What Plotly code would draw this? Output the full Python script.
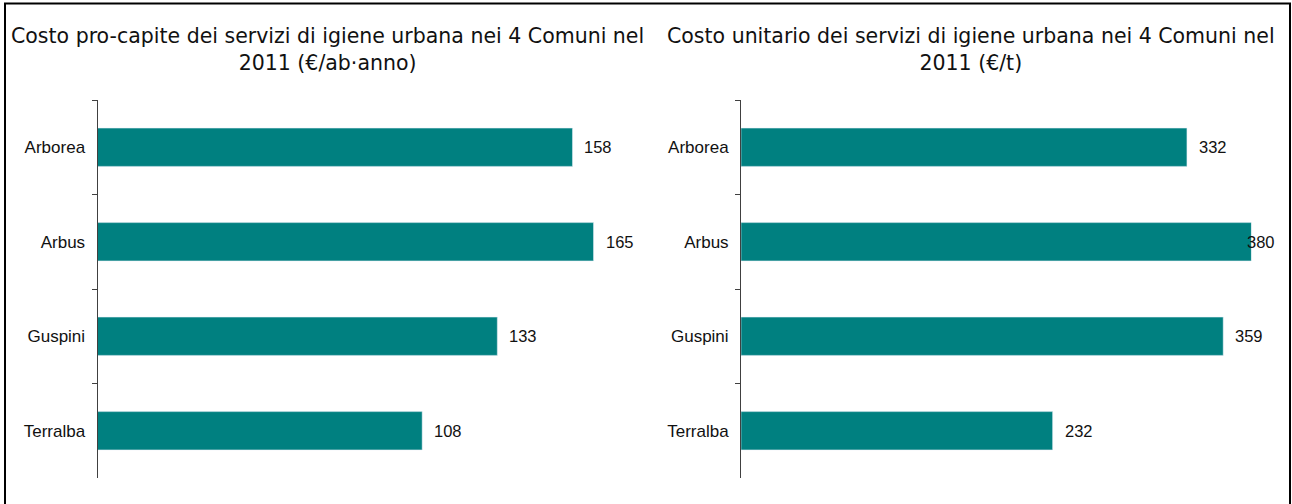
import plotly.graph_objects as go

comuni = ["Arborea", "Arbus", "Guspini", "Terralba"]
costo_pro_capite = [158, 165, 133, 108]
costo_unitario = [332, 380, 359, 232]
titolo_sx = "Costo pro-capite dei servizi di igiene urbana nei 4 Comuni nel<br>2011 (€/ab·anno)"
titolo_dx = "Costo unitario dei servizi di igiene urbana nei 4 Comuni nel<br>2011 (€/t)"

W, H = 1292, 504
BAR = "#008080"
AX = "#404040"
LBL = dict(family="Liberation Sans, Arial", size=16.5, color="#111")

fig = go.Figure()
fig.add_trace(go.Bar(x=costo_pro_capite, y=comuni, orientation="h", marker_color=BAR,
                     xaxis="x", yaxis="y", showlegend=False, hoverinfo="skip"))
fig.add_trace(go.Bar(x=costo_unitario, y=comuni, orientation="h", marker_color=BAR,
                     xaxis="x2", yaxis="y2", showlegend=False, hoverinfo="skip"))

ydom = [1 - 478 / H, 1 - 100 / H]
yax = dict(domain=ydom, type="category", categoryorder="array", categoryarray=comuni,
           autorange="reversed", showline=True, linecolor=AX, linewidth=1,
           ticks="outside", tickson="boundaries", ticklen=5, tickcolor=AX,
           showgrid=False, zeroline=False, ticklabelstandoff=8,
           tickfont=dict(family="Liberation Sans, Arial", size=17, color="#111"))
xax = dict(showline=False, showgrid=False, zeroline=False, showticklabels=False, ticks="")

fig.update_layout(
    width=W, height=H, margin=dict(l=0, r=0, t=0, b=0),
    paper_bgcolor="white", plot_bgcolor="white", bargap=0.595,
    xaxis=dict(domain=[97.5 / W, 638.6 / W], range=[0, 180], **xax),
    xaxis2=dict(domain=[741 / W, 1251.4 / W], range=[0, 380], anchor="y2", **xax),
    yaxis=dict(anchor="x", **yax),
    yaxis2=dict(anchor="x2", **yax),
)

ann = []
for c, v in zip(comuni, costo_pro_capite):
    ann.append(dict(x=v, y=c, xref="x", yref="y", text=str(v), showarrow=False,
                    xanchor="left", xshift=10, font=LBL))
for c, v in zip(comuni, costo_unitario):
    shift = -6 if v == max(costo_unitario) else 10
    ann.append(dict(x=v, y=c, xref="x2", yref="y2", text=str(v), showarrow=False,
                    xanchor="left", xshift=shift, font=LBL))

tfont = dict(family="DejaVu Sans", size=20.5, color="#111")
ann.append(dict(x=327 / W, y=1 - 50 / H, xref="paper", yref="paper", text=titolo_sx,
                showarrow=False, xanchor="center", yanchor="middle", font=tfont))
ann.append(dict(x=971 / W, y=1 - 50 / H, xref="paper", yref="paper", text=titolo_dx,
                showarrow=False, xanchor="center", yanchor="middle", font=tfont))
fig.update_layout(annotations=ann)

fig.add_shape(type="rect", xref="paper", yref="paper",
              x0=5 / W, x1=1290 / W, y0=-0.02, y1=1 - 3.5 / H,
              line=dict(color="black", width=2), fillcolor="rgba(0,0,0,0)", layer="above")

fig.write_html("out.html", config={"displayModeBar": False},
               post_script="document.body.style.margin='0';document.body.style.overflow='hidden';")
